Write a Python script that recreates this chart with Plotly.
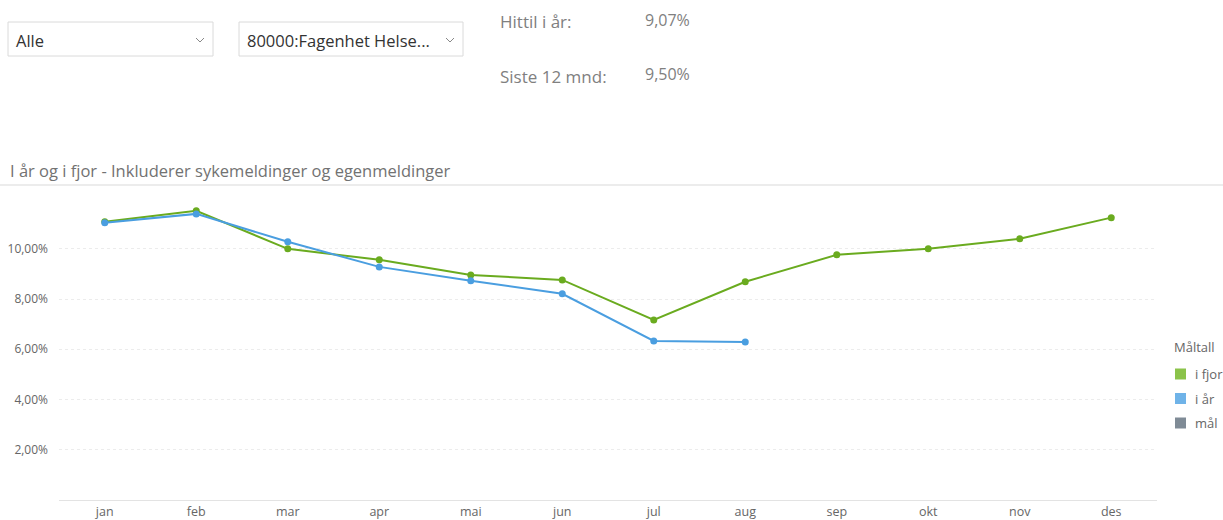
import plotly.graph_objects as go

months = ["jan", "feb", "mar", "apr", "mai", "jun", "jul", "aug", "sep", "okt", "nov", "des"]
i_fjor = [11.08, 11.51, 10.00, 9.56, 8.96, 8.76, 7.17, 8.69, 9.76, 10.00, 10.40, 11.24]
i_aar = [11.04, 11.39, 10.28, 9.28, 8.73, 8.21, 6.33, 6.29]
y_ticks = [2, 4, 6, 8, 10]
y_ticktext = ["2,00%", "4,00%", "6,00%", "8,00%", "10,00%"]
legend_title = "Måltall"
legend_names = ["i fjor", "i år", "mål"]
legend_colors = ["#8bc34a", "#6fb3e8", "#7f8b96"]
chart_title = "I år og i fjor - Inkluderer sykemeldinger og egenmeldinger"
dropdowns = ["Alle", "80000:Fagenhet Helse..."]
kpi_labels = ["Hittil i år:", "Siste 12 mnd:"]
kpi_values = ["9,07%", "9,50%"]

W, H = 1223, 520
L, R, T, B = 59, 1157, 186, 500   # plot area in window pixels
FONT = "Open Sans"


def px(x):
    return (x - L) / (R - L)


def py(y):
    return (B - y) / (B - T)


fig = go.Figure()
fig.add_trace(go.Scatter(
    x=months, y=i_fjor, mode="lines+markers", name="i fjor",
    line=dict(color="#6aab1f", width=2), marker=dict(color="#6aab1f", size=7),
    showlegend=False, hovertemplate="%{y:.2f}%<extra>i fjor</extra>"))
fig.add_trace(go.Scatter(
    x=months[:len(i_aar)], y=i_aar, mode="lines+markers", name="i år",
    line=dict(color="#4a9ee0", width=2), marker=dict(color="#4a9ee0", size=7),
    showlegend=False, hovertemplate="%{y:.2f}%<extra>i år</extra>"))

shapes = []
annotations = []

# dropdown boxes
boxes = [(8, 213), (239, 463)]
for (x0, x1), label in zip(boxes, dropdowns):
    shapes.append(dict(type="rect", xref="paper", yref="paper",
                       x0=px(x0), x1=px(x1), y0=py(22), y1=py(56),
                       line=dict(color="#dadada", width=1), fillcolor="white", layer="above"))
    annotations.append(dict(x=px(x0 + 6), y=py(40), xref="paper", yref="paper",
                            text=label, showarrow=False, xanchor="left", yanchor="middle",
                            font=dict(family=FONT, size=16.5, color="#333333")))
    cx = x1 - 13
    shapes.append(dict(type="path", xref="paper", yref="paper",
                       path=f"M {px(cx-4)} {py(38)} L {px(cx)} {py(42)} L {px(cx+4)} {py(38)}",
                       line=dict(color="#888888", width=1), layer="above"))

# KPI texts
for i, (lab, val) in enumerate(zip(kpi_labels, kpi_values)):
    yy = [22, 76][i]
    annotations.append(dict(x=px(498), y=py(yy), xref="paper", yref="paper", text=lab,
                            showarrow=False, xanchor="left", yanchor="middle",
                            font=dict(family=FONT, size=17, color="#808080")))
    annotations.append(dict(x=px(643), y=py(yy - 2), xref="paper", yref="paper", text=val,
                            showarrow=False, xanchor="left", yanchor="middle",
                            font=dict(family=FONT, size=16, color="#808080")))

# chart title and separator
annotations.append(dict(x=px(8), y=py(170), xref="paper", yref="paper", text=chart_title,
                        showarrow=False, xanchor="left", yanchor="middle",
                        font=dict(family=FONT, size=16.5, color="#727272")))
shapes.append(dict(type="line", xref="paper", yref="paper", x0=px(0), x1=px(1223),
                   y0=py(185), y1=py(185), line=dict(color="#d9d9d9", width=1)))

# custom legend
annotations.append(dict(x=px(1172), y=py(347), xref="paper", yref="paper", text=legend_title,
                        showarrow=False, xanchor="left", yanchor="middle",
                        font=dict(family=FONT, size=13, color="#666666")))
for i, (nm, col) in enumerate(zip(legend_names, legend_colors)):
    yy = 374 + i * 24.5
    shapes.append(dict(type="rect", xref="paper", yref="paper",
                       x0=px(1175), x1=px(1186), y0=py(yy - 5.5), y1=py(yy + 5.5),
                       fillcolor=col, line=dict(width=0)))
    annotations.append(dict(x=px(1193), y=py(yy), xref="paper", yref="paper", text=nm,
                            showarrow=False, xanchor="left", yanchor="middle",
                            font=dict(family=FONT, size=13, color="#666666")))

fig.update_layout(
    width=W, height=H,
    margin=dict(l=L, r=W - R, t=T, b=H - B, autoexpand=False),
    paper_bgcolor="white", plot_bgcolor="white",
    font=dict(family=FONT, size=12, color="#666666"),
    showlegend=False,
    shapes=shapes, annotations=annotations,
    xaxis=dict(type="category", range=[-0.5, 11.5], showgrid=False, zeroline=False,
               showline=True, linecolor="#e3e3e3", linewidth=1, ticks="",
               tickfont=dict(family=FONT, size=12.5, color="#666666"), automargin=False,
               fixedrange=True),
    yaxis=dict(range=[0, 12.5], tickvals=y_ticks, ticktext=y_ticktext, showgrid=True,
               gridcolor="#ececec", griddash="dot", gridwidth=1, zeroline=False, showline=False,
               ticks="", ticklabelstandoff=10,
               tickfont=dict(family=FONT, size=12, color="#666666"), automargin=False,
               fixedrange=True),
)

fig.write_html("out.html", config={"displayModeBar": False},
               post_script="document.body.style.margin='0px';document.body.style.overflow='hidden';")
